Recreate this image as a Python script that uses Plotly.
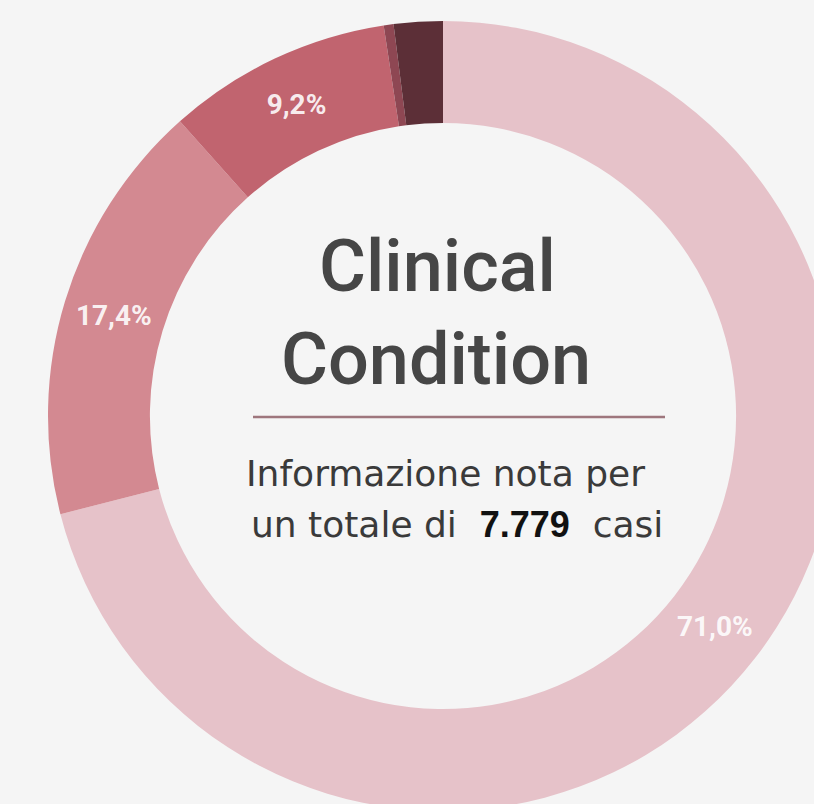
import plotly.graph_objects as go

# ---- data ----
categories = ["Cat A", "Cat B", "Cat C", "Cat D", "Cat E"]
shares = [71.0, 17.4, 9.2, 0.4, 2.0]
slice_labels = ["71,0%", "17,4%", "9,2%", "", ""]
slice_colors = ["#E6C2C9", "#D38991", "#C1646F", "#8E4753", "#5C2F37"]

title_lines = ["Clinical", "Condition"]
sub_line1 = "Informazione nota per"
sub_line2_a = "un totale di"
total_cases = "7.779"
sub_line2_b = "casi"

W, H = 870, 840
BG = "#F5F5F5"

def px(x):
    return x / W

def py(y):
    return 1 - y / H

cx, cy, R = 443, 416, 395

fig = go.Figure(
    go.Pie(
        labels=categories,
        values=shares,
        text=slice_labels,
        textinfo="text",
        textposition="inside",
        insidetextorientation="horizontal",
        insidetextfont=dict(color="rgba(255,255,255,0.9)", size=28, family="Roboto", weight="bold"),
        marker=dict(colors=slice_colors, line=dict(width=0)),
        hole=0.742,
        sort=False,
        direction="clockwise",
        rotation=0,
        showlegend=False,
        hoverinfo="skip",
        domain=dict(x=[px(cx - R), px(cx + R)], y=[py(cy + R), py(cy - R)]),
    )
)

annots = [
    dict(text=title_lines[0], x=px(437), y=py(266), size=72, color="#464646", family="Roboto", weight=500),
    dict(text=title_lines[1], x=px(436), y=py(359), size=72, color="#464646", family="Roboto", weight=500),
    dict(text=sub_line1, x=px(445), y=py(473), size=36, color="#3A3A3A", family="DejaVu Sans", weight=400),
    dict(text=(f"{sub_line2_a}  <span style=\"font-family:'Liberation Sans';font-weight:bold;color:#111\">"
               f"{total_cases}</span>  {sub_line2_b}"),
         x=px(457), y=py(524), size=36, color="#3A3A3A", family="DejaVu Sans", weight=400),
]
fig.update_layout(
    annotations=[
        dict(text=a["text"], x=a["x"], y=a["y"], xref="paper", yref="paper",
             xanchor="center", yanchor="middle", showarrow=False,
             font=dict(size=a["size"], color=a["color"], family=a["family"], weight=a["weight"]))
        for a in annots
    ],
    shapes=[
        dict(type="line", xref="paper", yref="paper",
             x0=px(253), x1=px(665), y0=py(417), y1=py(417),
             line=dict(color="#9E767D", width=2.5))
    ],
    width=W,
    height=H,
    margin=dict(l=0, r=0, t=0, b=0),
    paper_bgcolor=BG,
    plot_bgcolor=BG,
)

fig.write_html(
    "out.html",
    post_script="document.body.style.margin='0';document.body.style.overflow='hidden';"
                "document.documentElement.style.overflow='hidden';"
                "document.body.style.background='" + BG + "';",
)
